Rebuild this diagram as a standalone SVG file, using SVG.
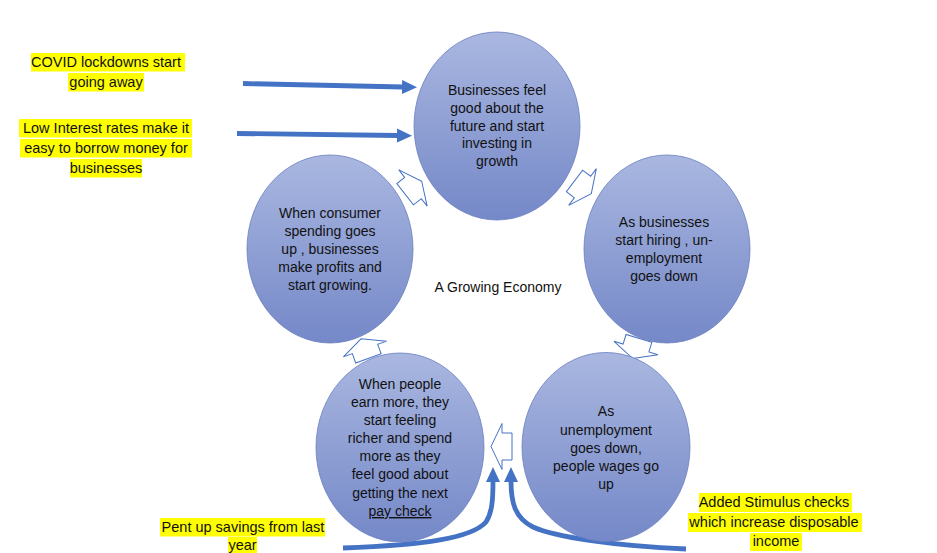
<svg xmlns="http://www.w3.org/2000/svg" width="937" height="553" viewBox="0 0 937 553">
  <defs>
    <linearGradient id="cg" x1="0" y1="0" x2="0" y2="1">
      <stop offset="0" stop-color="#A9B7E0"/>
      <stop offset="1" stop-color="#7588C8"/>
    </linearGradient>
    <marker id="ah" markerUnits="userSpaceOnUse" markerWidth="16" markerHeight="16" refX="1" refY="7" orient="auto">
      <path d="M0,0 L15,7 L0,14 Z" fill="#4472C4"/>
    </marker>
    <path id="blk" d="M11,0 L0,-23 L0,-13.5 L-10,-13.5 L-10,13.5 L0,13.5 L0,23 Z"/>
  </defs>
  <style>
    .node ellipse { fill: url(#cg); stroke: #6A7FC0; stroke-width: 0.8; }
    .t { font-family: "Liberation Sans", Arial, sans-serif; font-size: 14px; fill: #111; text-anchor: middle; }
    .lt { font-family: "Liberation Sans", Arial, sans-serif; font-size: 14.5px; fill: #111; text-anchor: middle; }
    .hl { fill: #FFFF00; }
    .flow { fill: none; stroke: #4472C4; stroke-width: 4.8; marker-end: url(#ah); }
    .hollow { fill: #fff; stroke: #4472C4; stroke-width: 1; }
  </style>
  <rect width="937" height="553" fill="#fff"/>

  <g id="connectors">
    <use href="#blk" class="hollow" transform="translate(413,188) rotate(-38)"/>
    <use href="#blk" class="hollow" transform="translate(582.5,187) rotate(37)"/>
    <use href="#blk" class="hollow" transform="translate(636,348) rotate(107)"/>
    <use href="#blk" class="hollow" transform="translate(502,446.5) rotate(180)"/>
    <use href="#blk" class="hollow" transform="translate(365,349) rotate(-110)"/>
    <path class="flow" d="M243,83.5 L403,87"/>
    <path class="flow" d="M237,133.5 L398,135.5"/>
    <path class="flow" d="M343,548 C425,545 472,538 486,522 C492,513 493,500 493,481"/>
    <path class="flow" d="M686,549 C615,546 555,537 533,527 C515,518 511,503 511,481"/>
  </g>

  <g id="node-top" class="node">
    <ellipse cx="497" cy="126" rx="83" ry="94"/>
    <text class="t"><tspan x="497" y="95">Businesses feel</tspan><tspan x="497" y="113">good about the</tspan><tspan x="497" y="130.5">future and start</tspan><tspan x="497" y="148">investing in</tspan><tspan x="497" y="166">growth</tspan></text>
  </g>

  <g id="node-right" class="node">
    <ellipse cx="667" cy="249" rx="83" ry="94"/>
    <text class="t"><tspan x="664" y="227">As businesses</tspan><tspan x="664" y="245">start hiring , un-</tspan><tspan x="664" y="263">employment</tspan><tspan x="664" y="281">goes down</tspan></text>
  </g>

  <g id="node-bottom-right" class="node">
    <ellipse cx="606" cy="447" rx="84" ry="94.5"/>
    <text class="t"><tspan x="606" y="416">As</tspan><tspan x="606" y="434.5">unemployment</tspan><tspan x="606" y="453">goes down,</tspan><tspan x="606" y="471">people wages go</tspan><tspan x="606" y="489">up</tspan></text>
  </g>

  <g id="node-bottom-left" class="node">
    <ellipse cx="400" cy="447.5" rx="84" ry="94.5"/>
    <text class="t"><tspan x="400" y="389">When people</tspan><tspan x="400" y="407">earn more,  they</tspan><tspan x="400" y="425">start feeling</tspan><tspan x="400" y="443">richer and spend</tspan><tspan x="400" y="461">more as they</tspan><tspan x="400" y="479">feel good about</tspan><tspan x="400" y="497.5">getting the next</tspan><tspan x="400" y="516" text-decoration="underline">pay check</tspan></text>
  </g>

  <g id="node-left" class="node">
    <ellipse cx="330" cy="249" rx="83" ry="94"/>
    <text class="t"><tspan x="330" y="218">When consumer</tspan><tspan x="330" y="236">spending goes</tspan><tspan x="330" y="254">up , businesses</tspan><tspan x="330" y="272">make profits and</tspan><tspan x="330" y="290">start growing.</tspan></text>
  </g>

  <g id="center-label">
    <text class="t" x="498" y="292">A Growing Economy</text>
  </g>

  <g id="label-covid">
    <rect class="hl" x="31" y="53" width="154" height="18.5"/>
    <rect class="hl" x="68" y="73" width="76" height="18.5"/>
    <text class="lt"><tspan x="106" y="67">COVID lockdowns start</tspan><tspan x="106" y="87">going away</tspan></text>
  </g>

  <g id="label-interest">
    <rect class="hl" x="19" y="119" width="173" height="18.5"/>
    <rect class="hl" x="20" y="139" width="172" height="18.5"/>
    <rect class="hl" x="70" y="159" width="72" height="18.5"/>
    <text class="lt"><tspan x="106" y="133">Low Interest rates make it</tspan><tspan x="106" y="153">easy to borrow money for</tspan><tspan x="106" y="173">businesses</tspan></text>
  </g>

  <g id="label-savings">
    <rect class="hl" x="160" y="518" width="165" height="18.5"/>
    <rect class="hl" x="228" y="537" width="29" height="16"/>
    <text class="lt"><tspan x="243" y="531.5">Pent up savings from last</tspan><tspan x="242.5" y="549.5">year</tspan></text>
  </g>

  <g id="label-stimulus">
    <rect class="hl" x="699" y="493" width="153" height="19"/>
    <rect class="hl" x="688" y="513" width="174" height="19"/>
    <rect class="hl" x="750" y="533" width="52" height="18"/>
    <text class="lt"><tspan x="774" y="507">Added Stimulus checks</tspan><tspan x="774" y="527">which increase disposable</tspan><tspan x="776" y="546">income</tspan></text>
  </g>
</svg>
